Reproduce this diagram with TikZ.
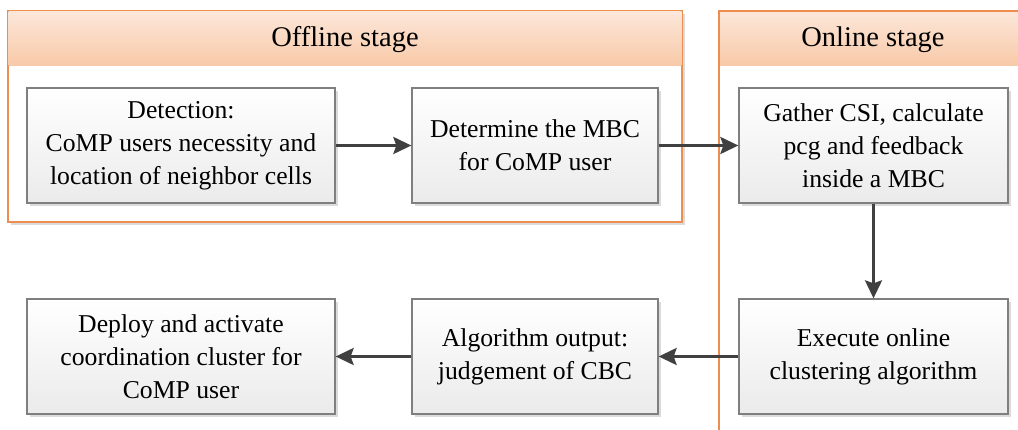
\documentclass[tikz,border=0pt]{standalone}
\usepackage{fontspec}
\setmainfont{Liberation Serif}
\usetikzlibrary{arrows.meta,shadows}

\definecolor{stageline}{HTML}{ED8E50}
\definecolor{stagetop}{HTML}{FCE7DA}
\definecolor{stagebot}{HTML}{F8C9A7}
\definecolor{boxline}{HTML}{7F7F7F}
\definecolor{flowgray}{HTML}{404040}

\begin{document}
\begin{tikzpicture}[x=1pt,y=-1pt,
    flow/.style={draw=flowgray,line width=2.8pt,
                 -{Stealth[length=18pt,width=17pt,inset=3pt]}},
    stepbox/.style={draw=boxline,line width=1.3pt,top color=white,
                    bottom color=black!8,minimum height=115pt,align=center,
                    font=\rmfamily\fontsize{25.7}{33}\selectfont,
                    drop shadow={shadow xshift=3pt,shadow yshift=-3pt,
                                 fill=black!14,opacity=1}}]
  \tikzstyle{stagetitle}=[font=\rmfamily\fontsize{28.5}{34}\selectfont]
  \useasboundingbox (0,0) rectangle (1018,430);

  % offline stage frame
  \fill[black!14] (11,14) rectangle (685,225);
  \draw[stageline,line width=1.2pt,fill=white] (8,11) rectangle (682,222);
  \shade[top color=stagetop,bottom color=stagebot] (8.6,11.6) rectangle (681.4,66);
  \node[stagetitle] (offlbl) at (345,40) {Offline stage};

  % online stage frame
  \shade[top color=stagetop,bottom color=stagebot] (719,11) rectangle (1030,66);
  \draw[stageline,line width=1.2pt] (719,432) -- (719,11) -- (1030,11);
  \node[stagetitle] (onllbl) at (873,40) {Online stage};

  \node[stepbox,minimum width=308pt] (det) at (181,145.5)
       {Detection:\\CoMP users necessity and\\location of neighbor cells};
  \node[stepbox,minimum width=246pt] (mbc) at (535,145.5)
       {Determine the MBC\\for CoMP user};
  \node[stepbox,minimum width=269pt] (gat) at (873.5,145.5)
       {Gather CSI, calculate\\pcg and feedback\\inside a MBC};
  \node[stepbox,minimum width=269pt] (exe) at (873.5,356.5)
       {Execute online\\clustering algorithm};
  \node[stepbox,minimum width=246pt] (alg) at (535,356.5)
       {Algorithm output:\\judgement of CBC};
  \node[stepbox,minimum width=308pt] (dep) at (181,356.5)
       {Deploy and activate\\coordination cluster for\\CoMP user};

  \draw[flow] (det) -- (mbc);
  \draw[flow] (mbc) -- (gat);
  \draw[flow] (gat) -- (exe);
  \draw[flow] (exe) -- (alg);
  \draw[flow] (alg) -- (dep);
\end{tikzpicture}
\end{document}
